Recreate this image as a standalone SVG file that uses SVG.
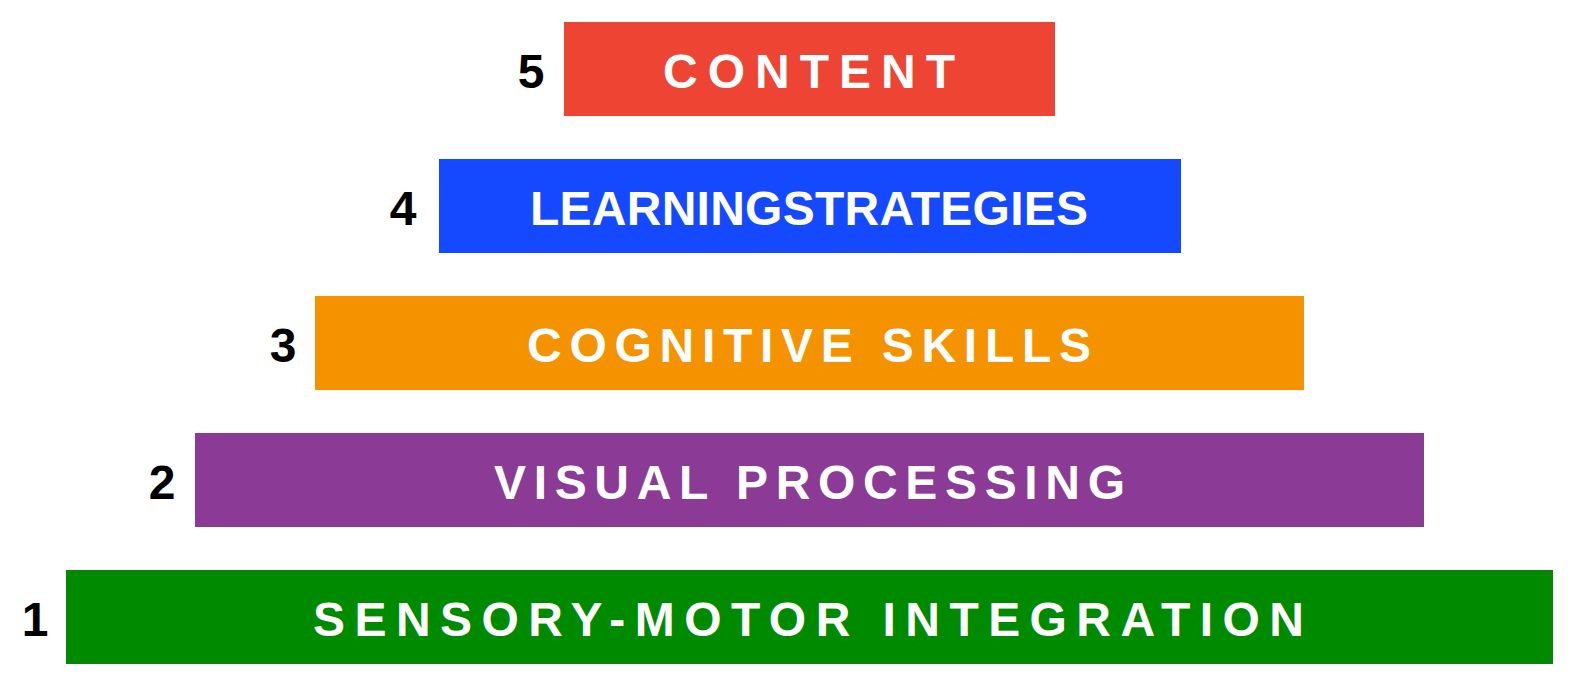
<svg xmlns="http://www.w3.org/2000/svg" width="1569" height="686" viewBox="0 0 1569 686">
<style>
.l{font-family:"Liberation Sans",Arial,sans-serif;font-weight:bold;font-size:48px;fill:#fff}
.n{font-family:"Liberation Sans",Arial,sans-serif;font-weight:bold;font-size:48px;fill:#000;text-anchor:middle}
</style>
<rect width="1569" height="686" fill="#fff"/>
<g id="level5"><rect x="564" y="22" width="491" height="94" fill="#EE4433"/><text class="l" x="663" y="88" textLength="292" lengthAdjust="spacing">CONTENT</text><text class="n" x="531" y="88">5</text></g>
<g id="level4"><rect x="439" y="159" width="742" height="94" fill="#1449FF"/><text class="l" x="530" y="225" textLength="558" lengthAdjust="spacing">LEARNINGSTRATEGIES</text><text class="n" x="403" y="225">4</text></g>
<g id="level3"><rect x="315" y="296" width="989" height="94" fill="#F59200"/><text class="l" x="527" y="362" textLength="564" lengthAdjust="spacing">COGNITIVE SKILLS</text><text class="n" x="283" y="362">3</text></g>
<g id="level2"><rect x="195" y="433" width="1229" height="94" fill="#8B3A96"/><text class="l" x="494" y="499" textLength="631" lengthAdjust="spacing">VISUAL PROCESSING</text><text class="n" x="162" y="499">2</text></g>
<g id="level1"><rect x="66" y="570" width="1487" height="94" fill="#008A00"/><text class="l" x="313" y="636" textLength="991" lengthAdjust="spacing">SENSORY-MOTOR INTEGRATION</text><text class="n" x="35" y="636">1</text></g>
<g id="connectors"/>
</svg>
